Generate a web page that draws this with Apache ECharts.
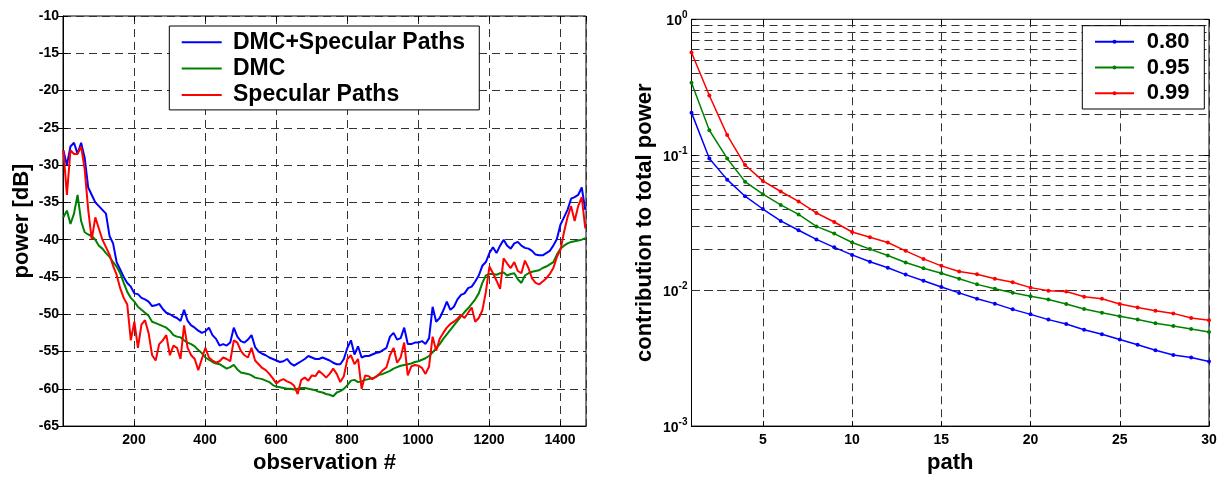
<!DOCTYPE html>
<html><head><meta charset="utf-8">
<script src="https://cdn.jsdelivr.net/npm/echarts@6.0.0/dist/echarts.min.js"></script>
<style>html,body{margin:0;padding:0;background:#fff}#c{width:1230px;height:479px}</style>
</head><body><div id="c"></div>
<script>
// ---------- LEFT PANEL DATA (power vs observation, sampled every 10 obs from 1) ----------
const seriesNamesLeft = ['DMC+Specular Paths', 'DMC', 'Specular Paths'];
const dmcSpecular = [-28,-30,-27.5,-27,-28.5,-27,-29,-33,-34,-35,-35.5,-36,-36.5,-39.5,-40.5,-43,-44,-45,-45.8,-46.3,
-47.2,-47.3,-47.8,-48,-48.3,-48.9,-48.8,-48.6,-49.3,-49.8,-50,-50.3,-50.5,-50.9,-49.4,-50.9,-51.5,-51.8,-52.2,-52.5,
-52.3,-51.8,-52.8,-53.3,-54.2,-54,-54.2,-53.8,-51.8,-53,-53.6,-53.8,-53.4,-52.8,-54.4,-55,-55.3,-55.5,-55.8,-56,
-56.2,-56.4,-56.3,-56,-56.6,-56.9,-56.6,-56.3,-56,-55.6,-55.8,-56,-56,-55.8,-56,-56.2,-56.5,-56.7,-56.7,-56,
-54.5,-53.5,-55.4,-54.3,-55.8,-55.6,-55.6,-55.4,-55.2,-55.1,-54.8,-54.5,-53,-52.5,-53.4,-53.2,-51.8,-54,-54,-53.8,
-53.8,-53.6,-54,-53.2,-49,-51,-50.5,-49.5,-48.3,-49.4,-49,-48,-47.4,-47.2,-46.5,-46.3,-45.6,-44.8,-43.5,-43,
-41.8,-41,-41.8,-40.8,-40,-40.8,-41.2,-40.5,-40.3,-40.8,-41.1,-41.2,-41.5,-42,-42.1,-42.1,-41.8,-41.5,-40.8,-39.9,
-38,-37,-36,-34.5,-34.3,-34,-33,-36];
const dmc = [-37,-36.1,-37.9,-36.5,-34,-37.5,-39,-39.3,-39.5,-40,-40.8,-41.2,-41.8,-42.3,-43,-43.6,-44.5,-45.8,-47,-47.8,
-48.3,-49,-49.4,-49.8,-50.2,-51,-51.2,-51.4,-51.6,-51.8,-52.2,-52.8,-53,-53.1,-53.5,-53.8,-54,-54.3,-54.8,-55.2,
-55.8,-56.1,-56.4,-56.6,-56.7,-57,-57.3,-57.1,-56.8,-57.4,-57.8,-57.9,-58,-58.2,-58.5,-58.6,-58.7,-58.9,-59.1,-59.5,
-59.7,-59.8,-59.9,-60,-60,-60.1,-60,-59.9,-59.9,-60,-60.1,-60.2,-60.4,-60.5,-60.7,-60.8,-61,-60.5,-60.3,-60,
-59.5,-58.9,-58.8,-59.1,-59,-58.8,-58.7,-58.6,-58.4,-58.1,-58,-57.8,-57.6,-57.3,-57.1,-56.9,-56.8,-56.7,-56.6,-56.4,
-56.3,-56.1,-55.9,-55.6,-55.1,-54.6,-54,-53.3,-52.7,-52.1,-51.5,-50.9,-50.3,-49.7,-49.2,-48.6,-48,-47.2,-45.8,-44.8,
-44.6,-44.6,-44.7,-44.5,-44.4,-44.8,-44.6,-44.5,-45.3,-45.8,-44.8,-44.5,-44.3,-44.2,-44.1,-43.8,-43.6,-43.3,-43,-42,
-41.2,-40.8,-40.5,-40.3,-40.2,-40.1,-40,-39.8];
const specular = [-28,-34,-28,-28.5,-28.5,-27.5,-30.5,-36,-40,-37,-38.5,-40,-41,-42,-43.5,-44.7,-46.5,-47.8,-48.7,-53.5,
-51,-54.5,-51.4,-50.8,-52.5,-55.5,-56.2,-54,-53.5,-52.8,-55.5,-54.2,-54.5,-56,-51.5,-54.5,-55.5,-56,-57.5,-56,
-54.5,-55.8,-56.2,-56.5,-56.3,-55.8,-56,-56.3,-53.5,-53.8,-54.9,-55.5,-55.8,-54.5,-56.2,-56.7,-57.2,-57.5,-58,-58.6,
-59.3,-58.9,-58.7,-59,-59.2,-59.6,-60.7,-58.8,-58.5,-58.9,-58.2,-58.3,-57.6,-58,-58.5,-58,-57.3,-58,-59.1,-58.3,
-56,-55.5,-56.7,-56,-60,-58.2,-58.3,-58.7,-58.4,-58,-57.5,-57.1,-55.5,-54.5,-56.5,-55.8,-53.8,-58.2,-57,-56.8,
-56.9,-57.2,-58,-57,-53,-54.9,-53.3,-52.5,-51.8,-51.3,-51,-50.6,-50.1,-50.5,-49.8,-49.1,-51,-50.5,-49.5,-47,
-43.6,-44.5,-45.5,-46.6,-42.5,-43.2,-43.8,-43,-44.2,-44.5,-42.8,-43.8,-45.2,-45.8,-46,-45.6,-45.2,-44.6,-43.8,-42.3,
-41.4,-39,-37,-35.5,-37.5,-35.5,-34.3,-38.5];
const observation = dmcSpecular.map((_, i) => 1 + i * 10);

// ---------- RIGHT PANEL DATA (contribution to total power vs path) ----------
const seriesNamesRight = ['0.80', '0.95', '0.99'];
const paths = [1,2,3,4,5,6,7,8,9,10,11,12,13,14,15,16,17,18,19,20,21,22,23,24,25,26,27,28,29,30];
const contrib080 = [0.205,0.0942,0.0657,0.0496,0.0399,0.0326,0.0278,0.0238,0.0208,0.0183,0.0163,0.0147,0.0131,0.0118,0.0106,
0.0096,0.0087,0.0080,0.00726,0.00667,0.0061,0.00566,0.00514,0.00476,0.00435,0.00398,0.00363,0.00334,0.00321,0.0030];
const contrib095 = [0.340,0.152,0.0942,0.0635,0.0513,0.0428,0.0364,0.0297,0.0263,0.0226,0.0202,0.0181,0.0161,0.0146,0.0134,
0.0122,0.0111,0.0103,0.00961,0.00908,0.00859,0.00794,0.0073,0.00686,0.00645,0.0061,0.00573,0.00547,0.0052,0.00494];
const contrib099 = [0.569,0.274,0.140,0.0842,0.0643,0.0537,0.0454,0.0373,0.032,0.027,0.0247,0.0226,0.0196,0.0171,0.0152,
0.0138,0.0132,0.0122,0.0115,0.0105,0.00994,0.00984,0.00898,0.00869,0.00794,0.0075,0.0071,0.00678,0.00626,0.00603];

// ---------- TICKS ----------
const leftXTicks = [200,400,600,800,1000,1200,1400];
const rightXTicks = [5,10,15,20,25,30];
const logMinorGrid = [0.002,0.003,0.004,0.005,0.006,0.007,0.008,0.009,
                      0.02,0.03,0.04,0.05,0.06,0.07,0.08,0.09,
                      0.2,0.3,0.4,0.5,0.6,0.7,0.8,0.9];

const FONT = '"Liberation Sans", Arial, Helvetica, sans-serif';
const GRIDLINE = {type: [8, 5], color: '#333', width: 1};
const tickLabel = {fontFamily: FONT, fontWeight: 'bold', fontSize: 14, color: '#000'};
const nameStyle = {fontFamily: FONT, fontWeight: 'bold', fontSize: 22, color: '#000'};
const COLORS = ['#0000ff', '#008000', '#ff0000'];
const innerTick = {show: true, inside: true, length: 5, lineStyle: {color: '#000'}};

const chart = echarts.init(document.getElementById('c'), null, {renderer: 'canvas'});

const pair = (xs, ys) => xs.map((x, i) => [x, ys[i]]);

const option = {
  animation: false,
  backgroundColor: '#fff',
  grid: [
    {left: 63, top: 16, width: 523, height: 413, show: true, borderColor: '#000', borderWidth: 1, backgroundColor: 'transparent'},
    {left: 691.5, top: 19.3, width: 517.5, height: 409.4, show: true, borderColor: '#000', borderWidth: 1, backgroundColor: 'transparent'}
  ],
  xAxis: [
    {gridIndex: 0, type: 'value', min: 0, max: 1473, interval: 200,
     name: 'observation #', nameLocation: 'middle', nameGap: 25, nameTextStyle: nameStyle,
     axisLine: {show: true, lineStyle: {color: '#000', width: 1}},
     axisTick: innerTick,
     axisLabel: Object.assign({margin: 7, showMinLabel: false, showMaxLabel: false,
       formatter: v => leftXTicks.indexOf(v) >= 0 ? String(v) : ''}, tickLabel),
     splitLine: {show: true, lineStyle: GRIDLINE}},
    {gridIndex: 1, type: 'value', min: 1, max: 30,
     name: 'path', nameLocation: 'middle', nameGap: 25, nameTextStyle: nameStyle,
     axisLine: {show: true, lineStyle: {color: '#000', width: 1}},
     axisTick: Object.assign({customValues: rightXTicks}, innerTick),
     axisLabel: Object.assign({margin: 7, customValues: rightXTicks}, tickLabel),
     splitLine: {show: true, lineStyle: GRIDLINE}},
    {gridIndex: 0, type: 'value', position: 'top', min: 0, max: 1473, interval: 200,
     axisLine: {show: false}, axisTick: innerTick, axisLabel: {show: false}, splitLine: {show: false}},
    {gridIndex: 1, type: 'value', position: 'top', min: 1, max: 30,
     axisLine: {show: false}, axisTick: Object.assign({customValues: rightXTicks}, innerTick),
     axisLabel: {show: false}, splitLine: {show: false}}
  ],
  yAxis: [
    {gridIndex: 0, type: 'value', min: -65, max: -10, interval: 5,
     name: 'power [dB]', nameLocation: 'middle', nameGap: 30, nameTextStyle: nameStyle,
     axisLine: {show: true, lineStyle: {color: '#000', width: 1}},
     axisTick: innerTick,
     axisLabel: Object.assign({margin: 4}, tickLabel),
     splitLine: {show: true, lineStyle: GRIDLINE}},
    {gridIndex: 1, type: 'log', logBase: 10, min: 0.001, max: 1,
     name: 'contribution to total power', nameLocation: 'middle', nameGap: 36, nameTextStyle: nameStyle,
     axisLine: {show: true, lineStyle: {color: '#000', width: 1}},
     axisTick: innerTick,
     axisLabel: {margin: 4,
       formatter: v => '{b|10}{s|' + Math.round(Math.log10(v)) + '}',
       rich: {
         b: {fontFamily: FONT, fontWeight: 'bold', fontSize: 14, color: '#000', lineHeight: 18, verticalAlign: 'bottom'},
         s: {fontFamily: FONT, fontWeight: 'bold', fontSize: 10, color: '#000', lineHeight: 11, verticalAlign: 'top'}
       }},
     splitLine: {show: true, lineStyle: GRIDLINE}},
    {gridIndex: 0, type: 'value', position: 'right', min: -65, max: -10, interval: 5,
     axisLine: {show: false}, axisTick: innerTick, axisLabel: {show: false}, splitLine: {show: false}},
    {gridIndex: 1, type: 'log', logBase: 10, position: 'right', min: 0.001, max: 1,
     axisLine: {show: false}, axisTick: innerTick, axisLabel: {show: false}, splitLine: {show: false}}
  ],
  legend: [
    {data: seriesNamesLeft, orient: 'vertical', left: 169.3, top: 26,
     icon: 'rect', itemWidth: 40, itemHeight: 2, itemGap: 3.3,
     padding: [4.8, 14.3, 3.5, 12.4],
     backgroundColor: '#fff', borderColor: '#000', borderWidth: 1, borderRadius: 0,
     textStyle: {fontFamily: FONT, fontWeight: 'bold', fontSize: 23, lineHeight: 23, color: '#000', padding: [0, 0, 0, 6.3]}},
    {data: seriesNamesRight, orient: 'vertical', left: 1082.3, top: 25.7,
     itemWidth: 39, itemHeight: 5, itemGap: 3.8,
     padding: [5, 14.8, 4.7, 11.7],
     backgroundColor: '#fff', borderColor: '#000', borderWidth: 1, borderRadius: 0,
     textStyle: {fontFamily: FONT, fontWeight: 'bold', fontSize: 22, lineHeight: 22, color: '#000', padding: [0, 0, 0, 7.7]}}
  ],
  series: [
    {name: seriesNamesLeft[0], type: 'line', xAxisIndex: 0, yAxisIndex: 0, data: pair(observation, dmcSpecular),
     symbol: 'none', color: COLORS[0], lineStyle: {width: 2, color: COLORS[0]}, z: 3},
    {name: seriesNamesLeft[1], type: 'line', xAxisIndex: 0, yAxisIndex: 0, data: pair(observation, dmc),
     symbol: 'none', color: COLORS[1], lineStyle: {width: 2, color: COLORS[1]}, z: 3},
    {name: seriesNamesLeft[2], type: 'line', xAxisIndex: 0, yAxisIndex: 0, data: pair(observation, specular),
     symbol: 'none', color: COLORS[2], lineStyle: {width: 2, color: COLORS[2]}, z: 3},
    {name: 'minor-grid', type: 'line', xAxisIndex: 1, yAxisIndex: 1, data: [], z: 1, silent: true,
     markLine: {silent: true, symbol: 'none', z: 1, animation: false, label: {show: false},
       lineStyle: GRIDLINE, emphasis: {disabled: true},
       data: logMinorGrid.map(v => ({yAxis: v}))}},
    {name: seriesNamesRight[0], type: 'line', xAxisIndex: 1, yAxisIndex: 1, data: pair(paths, contrib080),
     symbol: 'circle', symbolSize: 4, showSymbol: true, color: COLORS[0], lineStyle: {width: 1.5, color: COLORS[0]}, z: 3},
    {name: seriesNamesRight[1], type: 'line', xAxisIndex: 1, yAxisIndex: 1, data: pair(paths, contrib095),
     symbol: 'circle', symbolSize: 4, showSymbol: true, color: COLORS[1], lineStyle: {width: 1.5, color: COLORS[1]}, z: 3},
    {name: seriesNamesRight[2], type: 'line', xAxisIndex: 1, yAxisIndex: 1, data: pair(paths, contrib099),
     symbol: 'circle', symbolSize: 4, showSymbol: true, color: COLORS[2], lineStyle: {width: 1.5, color: COLORS[2]}, z: 3}
  ]
};
chart.setOption(option);
</script></body></html>
